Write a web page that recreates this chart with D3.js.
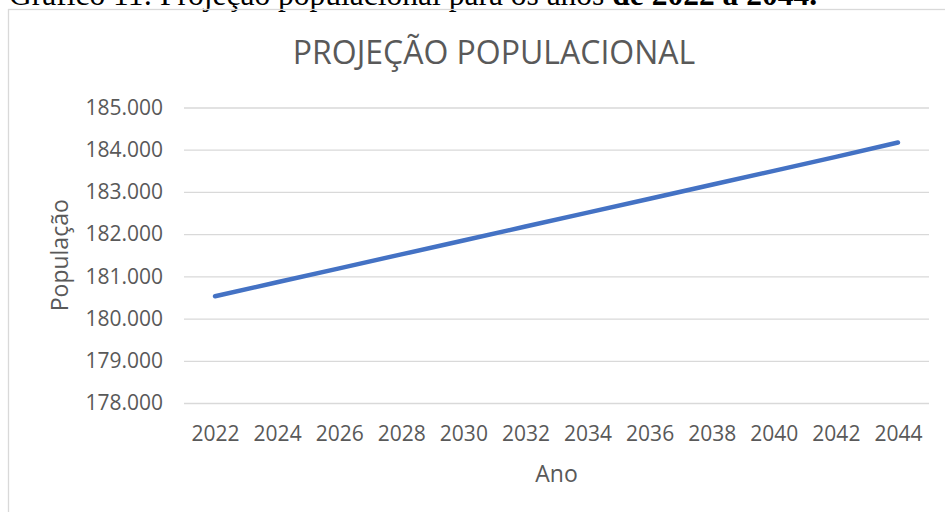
<!DOCTYPE html>
<html>
<head>
<meta charset="utf-8">
<script src="https://cdn.jsdelivr.net/npm/d3@7"></script>
<style>
  body { margin: 0; background: #fff; }
  svg { display: block; }
</style>
</head>
<body>
<div id="chart"></div>
<script>
//////////////////////// Data ////////////////////////////
var anos = ["2022","2024","2026","2028","2030","2032","2034","2036","2038","2040","2042","2044"];
var populacao = [180530, 180860, 181190, 181520, 181850, 182180, 182510, 182840, 183170, 183500, 183830, 184170];
var yTicks = [178000, 179000, 180000, 181000, 182000, 183000, 184000, 185000];

//////////////////////// Set-Up ////////////////////////////
var width = 945, height = 512;
var plot = {left: 184, right: 929, top: 107.5, bottom: 403};
var textColor = "#595959", gridColor = "#d9d9d9";

var br = d3.formatLocale({decimal: ",", thousands: ".", grouping: [3], currency: ["R$", ""]});
var fmt = br.format(",d");

var x = d3.scalePoint()
  .domain(anos)
  .range([plot.left, plot.right])
  .padding(0.5);

var y = d3.scaleLinear()
  .domain([178000, 185000])
  .range([plot.bottom, plot.top]);

var svg = d3.select("#chart").append("svg")
  .attr("width", width)
  .attr("height", height);

// caption above the chart box (cut by the page top, as in the original)
var cap = svg.append("text")
  .attr("x", 9)
  .attr("y", 5)
  .style("font-family", "'Liberation Serif', 'Times New Roman', serif")
  .style("font-size", "31.5px")
  .style("fill", "#000");
cap.append("tspan").text("Gráfico 11: Projeção populacional para os anos ");
cap.append("tspan").style("font-weight", "bold").text("de 2022 a 2044.");

// chart box
svg.append("rect")
  .attr("x", 8.5)
  .attr("y", 9.5)
  .attr("width", 960)
  .attr("height", 520)
  .style("fill", "none")
  .style("stroke", gridColor)
  .style("stroke-width", 1.3);

//////////////////////// Title ////////////////////////////
svg.append("text")
  .attr("x", 494)
  .attr("y", 64)
  .attr("text-anchor", "middle")
  .style("font-family", "'Open Sans', sans-serif")
  .style("font-size", "32px")
  .style("fill", textColor)
  .text("PROJEÇÃO POPULACIONAL");

//////////////////////// Axes ////////////////////////////
var yAxis = svg.append("g")
  .attr("transform", "translate(" + plot.left + ",0)")
  .call(d3.axisLeft(y).tickValues(yTicks).tickFormat(fmt)
    .tickSize(-(plot.right - plot.left)).tickPadding(21));

yAxis.select(".domain").remove();
yAxis.selectAll(".tick line")
  .style("stroke", gridColor)
  .style("stroke-width", 1.3);
yAxis.selectAll(".tick text")
  .style("font-family", "'Open Sans', sans-serif")
  .style("font-size", "21px")
  .style("fill", textColor);

var xAxis = svg.append("g")
  .attr("transform", "translate(0," + plot.bottom + ")")
  .call(d3.axisBottom(x).tickSize(0).tickPadding(23));

xAxis.select(".domain").remove();
xAxis.selectAll(".tick text")
  .style("font-family", "'Open Sans', sans-serif")
  .style("font-size", "21px")
  .style("fill", textColor);

// axis titles
svg.append("text")
  .attr("x", (plot.left + plot.right) / 2)
  .attr("y", 482)
  .attr("text-anchor", "middle")
  .style("font-family", "'Open Sans', sans-serif")
  .style("font-size", "23px")
  .style("fill", textColor)
  .text("Ano");

svg.append("text")
  .attr("transform", "translate(68," + ((plot.top + plot.bottom) / 2) + ") rotate(-90)")
  .attr("text-anchor", "middle")
  .style("font-family", "'Open Sans', sans-serif")
  .style("font-size", "23px")
  .style("fill", textColor)
  .text("População");

//////////////////////// Line ////////////////////////////
var line = d3.line()
  .x(function(d, i) { return x(anos[i]); })
  .y(function(d) { return y(d); });

svg.append("path")
  .datum(populacao)
  .attr("d", line)
  .style("fill", "none")
  .style("stroke", "#4472C4")
  .style("stroke-width", 4.5)
  .style("stroke-linecap", "round")
  .style("stroke-linejoin", "round");
</script>
</body>
</html>
